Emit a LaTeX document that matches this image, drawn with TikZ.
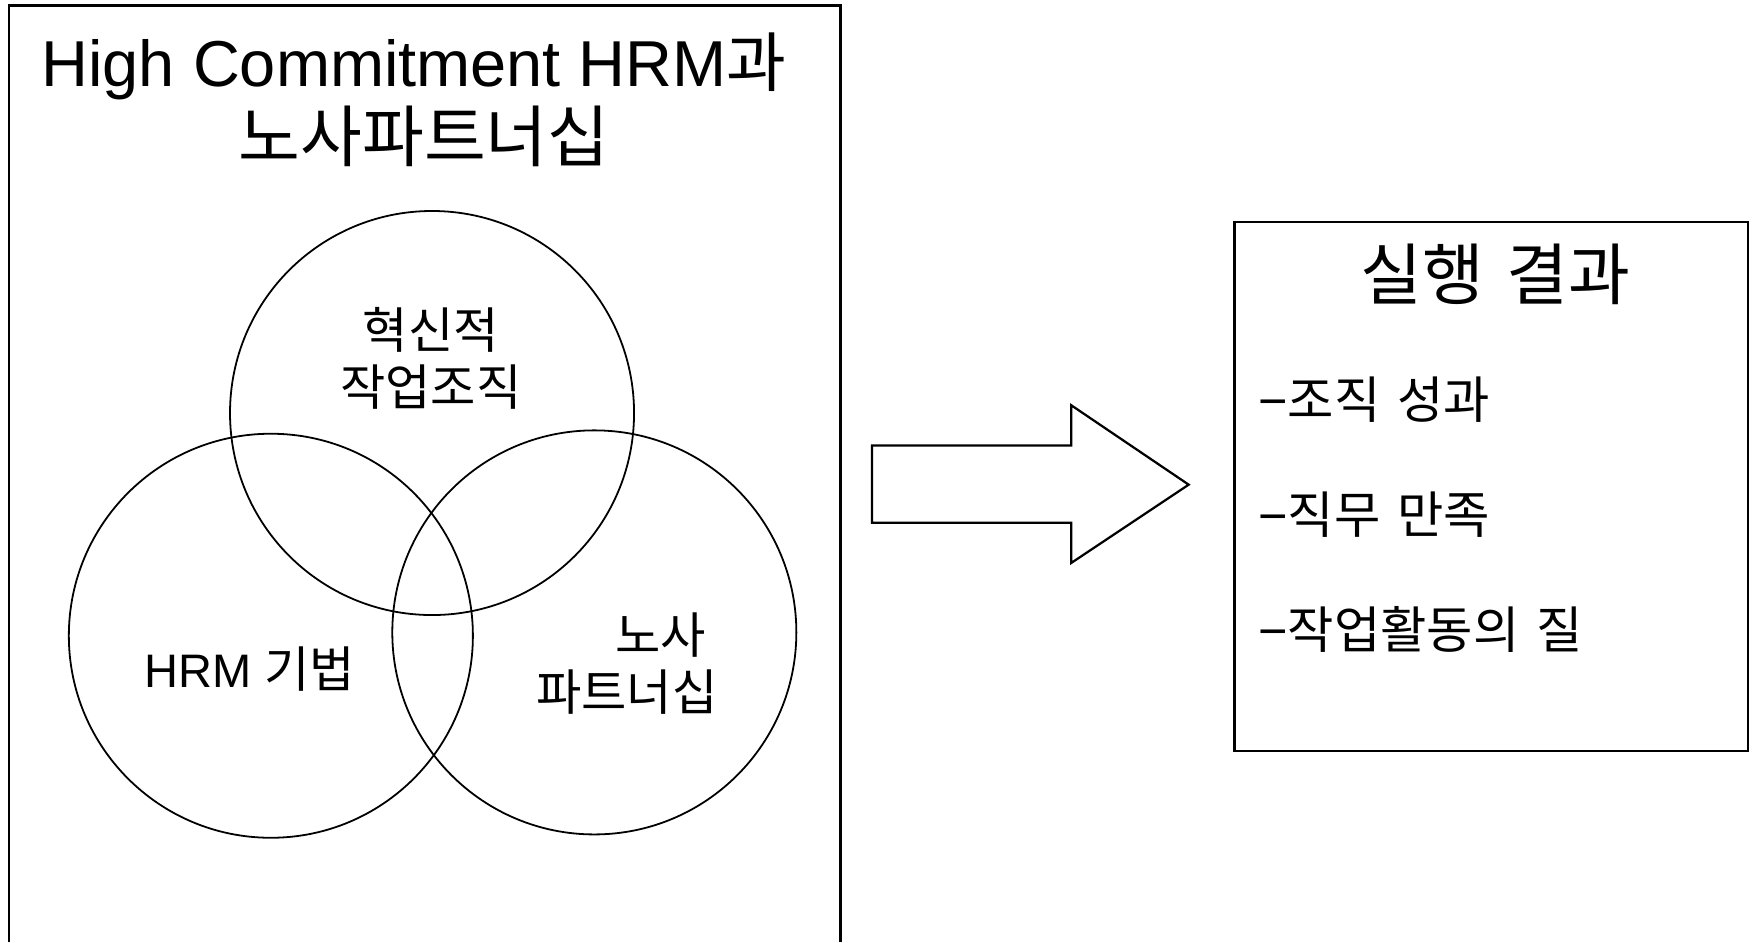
\documentclass[tikz,border=0pt]{standalone}
\usepackage{fontspec}
\setmainfont{Liberation Sans}
\newfontfamily\kr{Noto Sans CJK KR}
\tikzset{
  frame/.style={draw=black, line width=1pt},
  venn/.style={draw=black, line width=0.8pt},
  big/.style={font=\fontsize{29}{34}\selectfont, inner sep=0pt},
  bigkr/.style={font=\fontsize{30}{35}\selectfont\kr, inner sep=0pt},
  mid/.style={font=\fontsize{21}{25}\selectfont, inner sep=0pt},
  midkr/.style={font=\fontsize{22}{26}\selectfont\kr, inner sep=0pt},
  item/.style={font=\fontsize{22.5}{26}\selectfont, inner sep=0pt, anchor=west},
}
\newcommand{\krsp}{\hspace{0.33em}}
\begin{document}
\begin{tikzpicture}[x=0.5pt, y=-0.5pt]
\useasboundingbox (0,0) rectangle (1568,842);
% left frame (open at bottom)
\coordinate (lbl) at (8,842);
\coordinate (ltl) at (8,5);
\coordinate (ltr) at (751,5);
\coordinate (lbr) at (751,842);
\draw[frame, line cap=butt] (lbl) -- (ltl) -- (ltr) -- (lbr);
% title
\node[big, anchor=base] (t1) at (370,77) {High Commitment HRM{\kr 과}};
\node[bigkr] (t2) at (379,122) {노사파트너십};
% venn circles
\node[venn, circle, minimum size=361pt*0.5, inner sep=0pt] (ctop) at (386,369) {};
\node[venn, circle, minimum size=361pt*0.5, inner sep=0pt] (cleft) at (242,568) {};
\node[venn, circle, minimum size=361pt*0.5, inner sep=0pt] (cright) at (531,565) {};
% circle labels
\node[midkr] (l1a) at (385,295) {혁신적};
\node[midkr] (l1b) at (385,346) {작업조직};
\node[mid] (l2) at (223,598) {HRM {\fontsize{22}{26}\selectfont\kr 기법}};
\node[midkr] (l3a) at (590,567) {노사};
\node[midkr] (l3b) at (560,618) {파트너십};
% block arrow
\coordinate (a1) at (779,398);
\coordinate (a2) at (957,398);
\coordinate (a3) at (957,362);
\coordinate (a4) at (1062,433);
\coordinate (a5) at (957,503);
\coordinate (a6) at (957,467);
\coordinate (a7) at (779,467);
\draw[frame, line join=miter] (a1) -- (a2) -- (a3) -- (a4) -- (a5) -- (a6) -- (a7) -- cycle;
% right box
\node[frame, rectangle, minimum width=459pt*0.5, minimum height=473pt*0.5, inner sep=0pt] (rbox) at (1332.5,434.5) {};
\node[bigkr] (rt) at (1336,245) {실행\krsp 결과};
\node[item] (r1) at (1124,357) {−{\kr 조직\krsp 성과}};
\node[item] (r2) at (1124,460) {−{\kr 직무\krsp 만족}};
\node[item] (r3) at (1124,562) {−{\kr 작업활동의\krsp 질}};
\end{tikzpicture}
\end{document}
